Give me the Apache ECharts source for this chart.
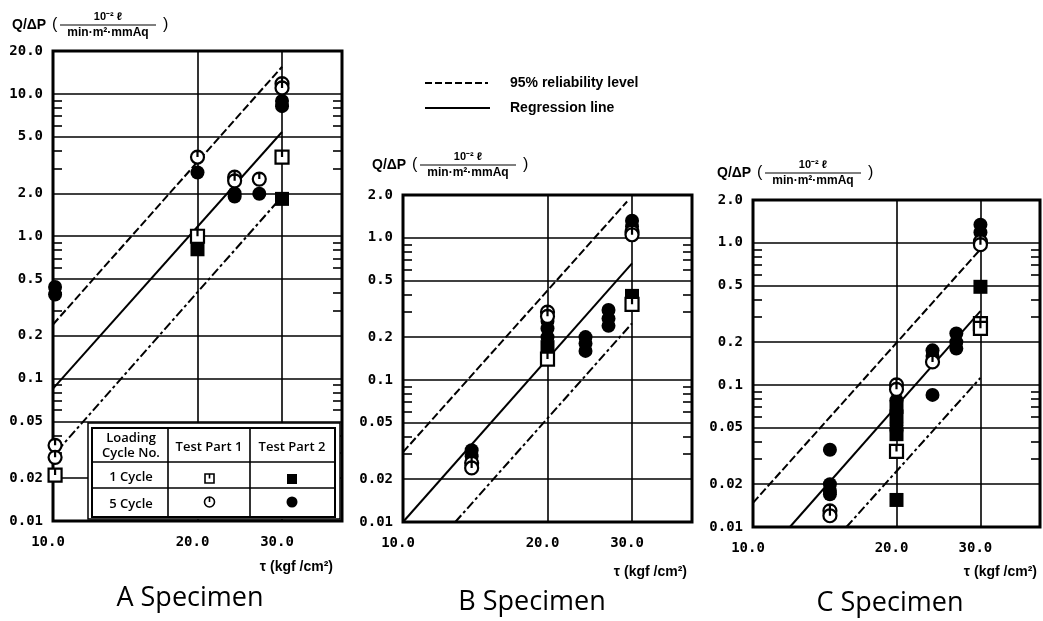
<!DOCTYPE html>
<html><head><meta charset="utf-8">
<script src="https://cdn.jsdelivr.net/npm/echarts@6/dist/echarts.min.js"></script>
<style>html,body{margin:0;padding:0;background:#fff}#c{width:1043px;height:621px}</style>
</head><body><div id="c"></div>
<script>
// ---------- tick labels ----------
const xTickLabels = [10, 20, 30];
const xGridValues = [20, 30];
const yMajorA = [0.01, 0.02, 0.05, 0.1, 0.2, 0.5, 1, 2, 5, 10, 20];
const yMajorBC = [0.01, 0.02, 0.05, 0.1, 0.2, 0.5, 1, 2];
const yMinorA = [0.03, 0.04, 0.06, 0.07, 0.08, 0.09, 0.3, 0.4, 0.6, 0.7, 0.8, 0.9, 3, 4, 6, 7, 8, 9];
const yMinorBC = [0.03, 0.04, 0.06, 0.07, 0.08, 0.09, 0.3, 0.4, 0.6, 0.7, 0.8, 0.9];

// ---------- A Specimen  [tau, Q/dP] ----------
const A_part1_cycle1 = [[10.1, 0.021], [20, 1.0], [30, 3.6]];
const A_part2_cycle1 = [[20, 0.81], [30, 1.83]];
const A_part1_cycle5 = [[10.1, 0.034], [10.1, 0.028], [20, 3.6], [23.9, 2.6], [23.9, 2.45], [26.9, 2.52], [30, 11.8], [30, 11.0]];
const A_part2_cycle5 = [[10.1, 0.44], [10.1, 0.39], [20, 2.8], [23.9, 1.9], [23.9, 2.0], [26.9, 1.99], [30, 8.9], [30, 8.2]];
const A_upper = [[10, 0.24], [30, 15.5]];
const A_regression = [[10, 0.085], [30, 5.4]];
const A_lower = [[10.2, 0.031], [30, 1.9]];

// ---------- B Specimen ----------
const B_part1_cycle1 = [[20, 0.14], [30, 0.34]];
const B_part2_cycle1 = [[20, 0.17], [30, 0.39]];
const B_part1_cycle5 = [[13.9, 0.026], [13.9, 0.024], [20, 0.30], [20, 0.28], [30, 1.1], [30, 1.05]];
const B_part2_cycle5 = [[13.9, 0.032], [13.9, 0.029], [20, 0.26], [20, 0.23], [20, 0.2], [24, 0.2], [24, 0.18], [24, 0.16], [26.8, 0.31], [26.8, 0.27], [26.8, 0.24], [30, 1.32], [30, 1.2]];
const B_upper = [[10, 0.031], [29.3, 1.8]];
const B_regression = [[10, 0.01], [30, 0.66]];
const B_lower = [[12.85, 0.01], [30, 0.25]];

// ---------- C Specimen ----------
const C_part1_cycle1 = [[20, 0.034], [30, 0.27], [30, 0.25]];
const C_part2_cycle1 = [[20, 0.0155], [20, 0.07], [20, 0.06], [20, 0.045], [30, 0.49]];
const C_part1_cycle5 = [[14.5, 0.013], [14.5, 0.012], [20, 0.1], [20, 0.093], [23.8, 0.145], [30, 1.02], [30, 0.97]];
const C_part2_cycle5 = [[14.5, 0.035], [14.5, 0.020], [14.5, 0.018], [14.5, 0.017], [20, 0.078], [20, 0.052], [20, 0.048], [23.8, 0.175], [23.8, 0.16], [23.8, 0.085], [26.7, 0.23], [26.7, 0.2], [26.7, 0.18], [30, 1.34], [30, 1.18]];
const C_upper = [[10, 0.0148], [30, 0.9]];
const C_regression = [[11.95, 0.01], [30, 0.33]];
const C_lower = [[15.7, 0.01], [30, 0.112]];

// ---------- texts ----------
const yTitleMain = 'Q/ΔP';
const yTitleNum = '10⁻² ℓ';
const yTitleDen = 'min·m²·mmAq';
const xTitle = 'τ (kgf /cm²)';
const legendDashed = '95% reliability level';
const legendSolid = 'Regression line';

const panels = [
  { name: 'A Specimen', grid: { left: 53, top: 51, width: 289, height: 470 }, yMax: 20, major: yMajorA, minor: yMinorA,
    p11: A_part1_cycle1, p21: A_part2_cycle1, p15: A_part1_cycle5, p25: A_part2_cycle5, up: A_upper, reg: A_regression, low: A_lower,
    yt: [12, 25], xt: [333, 567], st: [190, 598] },
  { name: 'B Specimen', grid: { left: 403, top: 195, width: 289, height: 327 }, yMax: 2, major: yMajorBC, minor: yMinorBC,
    p11: B_part1_cycle1, p21: B_part2_cycle1, p15: B_part1_cycle5, p25: B_part2_cycle5, up: B_upper, reg: B_regression, low: B_lower,
    yt: [372, 165], xt: [687, 572], st: [532, 602] },
  { name: 'C Specimen', grid: { left: 753, top: 200, width: 287, height: 327 }, yMax: 2, major: yMajorBC, minor: yMinorBC,
    p11: C_part1_cycle1, p21: C_part2_cycle1, p15: C_part1_cycle5, p25: C_part2_cycle5, up: C_upper, reg: C_regression, low: C_lower,
    yt: [717, 173], xt: [1037, 572], st: [890, 603] }
];

const OPEN_CIRCLE = 'path://M10 0A10 10 0 0 1 10 20A10 10 0 0 1 10 0ZM10 0L10 10';
const OPEN_SQUARE = 'path://M0 0L20 0L20 20L0 20ZM10 0L10 10';
const tickFont = { fontFamily: 'DejaVu Sans Mono', fontWeight: 'bold', fontSize: 14, color: '#000' };
const fmtY = v => (v >= 1 ? Number(v).toFixed(1) : String(+Number(v).toPrecision(2)));
const fmtX = v => Number(v).toFixed(1);

const grid = [], xAxis = [], yAxis = [], series = [], graphic = [];

panels.forEach((p, i) => {
  grid.push(Object.assign({ show: true, borderColor: '#000', borderWidth: 3, backgroundColor: 'rgba(0,0,0,0)' }, p.grid));
  xAxis.push({
    type: 'log', logBase: 10, gridIndex: i, min: 10, max: 40,
    axisLine: { show: false },
    axisTick: { show: false, customValues: xGridValues },
    splitLine: { show: true, lineStyle: { color: '#000', width: 1.6 } },
    axisLabel: Object.assign({ customValues: xTickLabels, formatter: fmtX, margin: 14, padding: [0, 10, 0, 0] }, tickFont)
  });
  const yBase = { type: 'log', logBase: 10, gridIndex: i, min: 0.01, max: p.yMax, axisLine: { show: false } };
  yAxis.push(Object.assign({}, yBase, {
    position: 'left',
    axisTick: { show: false, customValues: p.major },
    splitLine: { show: true, lineStyle: { color: '#000', width: 1.6 } },
    axisLabel: Object.assign({ customValues: p.major, formatter: fmtY, margin: 10 }, tickFont)
  }));
  ['left', 'right'].forEach(pos => {
    yAxis.push(Object.assign({}, yBase, {
      position: pos,
      axisTick: { show: true, inside: true, length: 9, customValues: p.minor, lineStyle: { color: '#000', width: 1.6 } },
      axisLabel: { show: false },
      splitLine: { show: false }
    }));
  });
  const yi = i * 3;
  const lineS = (data, type) => ({
    type: 'line', xAxisIndex: i, yAxisIndex: yi, data, symbol: 'none', silent: true, z: 3,
    lineStyle: { color: '#000', width: 2, type }
  });
  series.push(lineS(p.up, [8, 3]));
  series.push(lineS(p.reg, 'solid'));
  series.push(lineS(p.low, [9, 3, 3, 3]));
  const sc = (data, symbol, size, fill) => ({
    type: 'scatter', xAxisIndex: i, yAxisIndex: yi, data, symbol, symbolSize: size, silent: true, z: 4,
    itemStyle: { color: fill, borderColor: '#000', borderWidth: fill === '#000' ? 0 : 2.2, opacity: 1 }
  });
  series.push(sc(p.p21, 'rect', 14, '#000'));
  series.push(sc(p.p25, 'circle', 14, '#000'));
  series.push(sc(p.p11, OPEN_SQUARE, 13, '#fff'));
  series.push(sc(p.p15, OPEN_CIRCLE, 13, '#fff'));

  // y title with fraction
  const [x0, y0] = p.yt;
  graphic.push(
    { type: 'text', x: x0, y: y0, z: 50, style: { text: yTitleMain, fill: '#000', font: 'bold 14px "Liberation Sans"', align: 'left', verticalAlign: 'middle', textAlign: 'left', textVerticalAlign: 'middle' } },
    { type: 'text', x: x0 + 40, y: y0, z: 50, style: { text: '(', fill: '#000', font: '16px "Liberation Sans"', align: 'left', verticalAlign: 'middle', textAlign: 'left', textVerticalAlign: 'middle' } },
    { type: 'text', x: x0 + 96, y: y0 - 8, z: 50, style: { text: yTitleNum, fill: '#000', font: 'bold 11px "Liberation Sans"', align: 'center', verticalAlign: 'middle', textAlign: 'center', textVerticalAlign: 'middle' } },
    { type: 'line', z: 50, shape: { x1: x0 + 48, y1: y0, x2: x0 + 144, y2: y0 }, style: { stroke: '#000', lineWidth: 1.2 } },
    { type: 'text', x: x0 + 96, y: y0 + 8, z: 50, style: { text: yTitleDen, fill: '#000', font: 'bold 12px "Liberation Sans"', align: 'center', verticalAlign: 'middle', textAlign: 'center', textVerticalAlign: 'middle' } },
    { type: 'text', x: x0 + 151, y: y0, z: 50, style: { text: ')', fill: '#000', font: '16px "Liberation Sans"', align: 'left', verticalAlign: 'middle', textAlign: 'left', textVerticalAlign: 'middle' } },
    { type: 'text', x: p.xt[0], y: p.xt[1], z: 50, style: { text: xTitle, fill: '#000', font: 'bold 14px "Liberation Sans"', align: 'right', verticalAlign: 'middle', textAlign: 'right', textVerticalAlign: 'middle' } },
    { type: 'text', x: p.st[0], y: p.st[1], z: 50, style: { text: p.name, fill: '#000', font: '27px "Open Sans"', align: 'center', verticalAlign: 'middle', textAlign: 'center', textVerticalAlign: 'middle' } }
  );
});

// top legend
graphic.push(
  { type: 'line', z: 50, shape: { x1: 425, y1: 83, x2: 488, y2: 83 }, style: { stroke: '#000', lineWidth: 2, lineDash: [7, 3] } },
  { type: 'text', x: 510, y: 83, z: 50, style: { text: legendDashed, fill: '#000', font: 'bold 14px "Liberation Sans"', align: 'left', verticalAlign: 'middle', textAlign: 'left', textVerticalAlign: 'middle' } },
  { type: 'line', z: 50, shape: { x1: 425, y1: 108, x2: 490, y2: 108 }, style: { stroke: '#000', lineWidth: 2 } },
  { type: 'text', x: 510, y: 108, z: 50, style: { text: legendSolid, fill: '#000', font: 'bold 14px "Liberation Sans"', align: 'left', verticalAlign: 'middle', textAlign: 'left', textVerticalAlign: 'middle' } }
);

// legend table (A Specimen)
const tFont = '600 13px "Open Sans"';
const tText = (t, x, y) => ({ type: 'text', x, y, z: 101, style: { text: t, fill: '#000', font: tFont, align: 'center', verticalAlign: 'middle', textAlign: 'center', textVerticalAlign: 'middle' } });
const tLine = (x1, y1, x2, y2, w) => ({ type: 'line', z: 101, shape: { x1, y1, x2, y2 }, style: { stroke: '#000', lineWidth: w } });
graphic.push(
  { type: 'rect', z: 100, shape: { x: 88, y: 423, width: 252, height: 96 }, style: { fill: '#fff', stroke: '#000', lineWidth: 1.5 } },
  { type: 'rect', z: 101, shape: { x: 92, y: 428, width: 243, height: 89 }, style: { fill: '#fff', stroke: '#000', lineWidth: 2 } },
  tLine(168, 428, 168, 517, 1.6), tLine(250, 428, 250, 517, 1.6),
  tLine(92, 462, 335, 462, 1.6), tLine(92, 488, 335, 488, 1.6),
  tText('Loading', 131, 438), tText('Cycle No.', 131, 453),
  tText('Test Part 1', 209, 447), tText('Test Part 2', 292, 447),
  tText('1 Cycle', 131, 477), tText('5 Cycle', 131, 504),
  { type: 'rect', z: 102, shape: { x: 205, y: 474, width: 9, height: 9 }, style: { fill: '#fff', stroke: '#000', lineWidth: 1.6 } },
  { type: 'line', z: 103, shape: { x1: 209.5, y1: 474, x2: 209.5, y2: 478.5 }, style: { stroke: '#000', lineWidth: 1.6 } },
  { type: 'rect', z: 102, shape: { x: 287, y: 474, width: 10, height: 10 }, style: { fill: '#000' } },
  { type: 'circle', z: 102, shape: { cx: 209.5, cy: 502, r: 5 }, style: { fill: '#fff', stroke: '#000', lineWidth: 1.6 } },
  { type: 'line', z: 103, shape: { x1: 209.5, y1: 497, x2: 209.5, y2: 502 }, style: { stroke: '#000', lineWidth: 1.6 } },
  { type: 'circle', z: 102, shape: { cx: 292, cy: 502, r: 5.5 }, style: { fill: '#000' } }
);

const chart = echarts.init(document.getElementById('c'), null, { renderer: 'canvas' });
chart.setOption({ animation: false, backgroundColor: '#fff', grid, xAxis, yAxis, series, graphic });
</script></body></html>
